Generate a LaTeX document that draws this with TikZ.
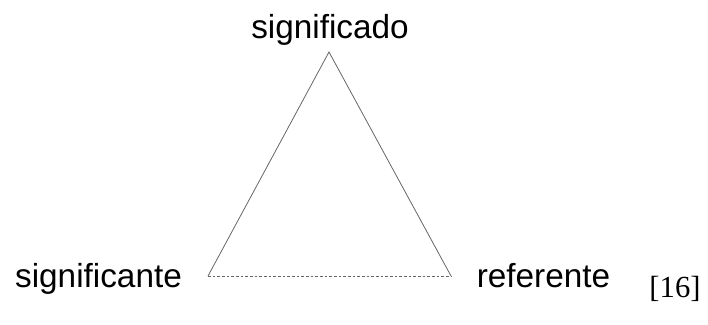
\documentclass[tikz,border=0pt]{standalone}
\usepackage{fontspec}
\setmainfont{Liberation Sans}
\newfontfamily\refserif{Liberation Serif}
\begin{document}
\begin{tikzpicture}[x=.75pt,y=-.75pt,line width=.6pt,
  label/.style={anchor=base,inner sep=0pt,font=\fontsize{25}{30}\selectfont}]
  \useasboundingbox (0,0) rectangle (708,325);
  \coordinate (top) at (329,52);
  \coordinate (lft) at (208,276);
  \coordinate (rgt) at (451,276);
  \draw[black!60] (lft)--(top)--(rgt);
  \draw[black!60,dash pattern=on 2pt off 1.5pt] (lft)--(rgt);
  \node[label] (sdo) at (330,38) {significado};
  \node[label] (ste) at (98.5,287) {significante};
  \node[label] (ref) at (543.5,287) {referente};
  \node[anchor=base,inner sep=0pt,font=\refserif\fontsize{23}{28}\selectfont] (cit) at (675,297) {[16]};
\end{tikzpicture}
\end{document}
